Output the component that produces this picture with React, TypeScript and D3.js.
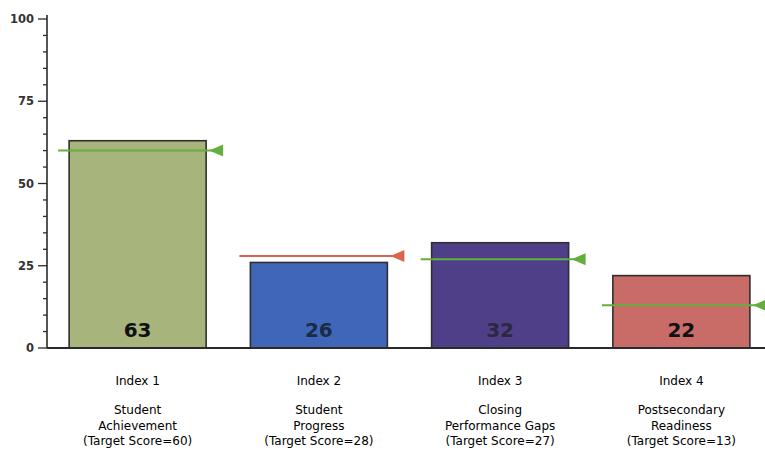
import React from "react";
import * as d3 from "d3";

const categories = ["Index 1", "Index 2", "Index 3", "Index 4"];
const subtitles = [
  ["Student", "Achievement", "(Target Score=60)"],
  ["Student", "Progress", "(Target Score=28)"],
  ["Closing", "Performance Gaps", "(Target Score=27)"],
  ["Postsecondary", "Readiness", "(Target Score=13)"],
];
const scores = [63, 26, 32, 22];
const targets = [60, 28, 27, 13];
const barColors = ["#a7b57c", "#3f66b8", "#4f3f88", "#c96c68"];
const labelColors = ["#111111", "#1b2a45", "#2b2840", "#111111"];
const yTicks = [0, 25, 50, 75, 100];

const W = 765;
const H = 453;
const axisX = 47;
const y0 = 348;
const yTop = 19;

export default function App() {
  const y = d3.scaleLinear().domain([0, 100]).range([y0, yTop]);
  const x = d3
    .scaleBand<string>()
    .domain(categories)
    .range([axisX, 772])
    .paddingInner(0.244)
    .paddingOuter(0.122);
  const minor = d3.range(0, 101, 5);
  const bw = x.bandwidth();
  const font = "'DejaVu Sans', Verdana, sans-serif";

  return (
    <svg
      width={W}
      height={H}
      style={{ position: "absolute", left: 0, top: 0, background: "#fff" }}
    >
      {categories.map((c, i) => {
        const bx = x(c)!;
        return (
          <g key={c}>
            <rect
              x={bx}
              y={y(scores[i])}
              width={bw}
              height={y0 - y(scores[i])}
              fill={barColors[i]}
              stroke="#2f2f2f"
              strokeWidth={1.6}
            />
            <text
              x={bx + bw / 2}
              y={337}
              textAnchor="middle"
              fontFamily={font}
              fontWeight="bold"
              fontSize={20}
              fill={labelColors[i]}
            >
              {scores[i]}
            </text>
          </g>
        );
      })}
      {categories.map((c, i) => {
        const bx = x(c)!;
        const ty = y(targets[i]);
        const col = scores[i] >= targets[i] ? "#64ae3e" : "#d8654c";
        const tip = bx + bw + 3;
        return (
          <g key={"t" + c}>
            <line
              x1={bx - 11}
              x2={tip + 8}
              y1={ty}
              y2={ty}
              stroke={col}
              strokeWidth={2}
            />
            <path
              d={`M${tip},${ty} L${tip + 14},${ty - 6} L${tip + 14},${ty + 6} Z`}
              fill={col}
            />
          </g>
        );
      })}
      <line x1={axisX} x2={axisX} y1={15} y2={y0} stroke="#2a2a2a" strokeWidth={1.6} />
      <line x1={axisX} x2={W} y1={y0} y2={y0} stroke="#2a2a2a" strokeWidth={1.8} />
      {minor.map((v) => (
        <line
          key={v}
          x1={v % 25 === 0 ? 38 : 43}
          x2={axisX}
          y1={y(v)}
          y2={y(v)}
          stroke="#2a2a2a"
          strokeWidth={1.3}
        />
      ))}
      {yTicks.map((v) => (
        <text
          key={v}
          x={34}
          y={y(v) + 4}
          textAnchor="end"
          fontFamily={font}
          fontSize={11.5}
          fontWeight="bold"
          fill="#333"
        >
          {v}
        </text>
      ))}
      {categories.map((c, i) => {
        const cx = x(c)! + bw / 2;
        return (
          <g key={"l" + c} fontFamily={font} fontSize={12} fill="#000" textAnchor="middle">
            <text x={cx} y={385}>{c}</text>
            {subtitles[i].map((s, j) => (
              <text key={j} x={cx} y={414 + j * 15.5}>{s}</text>
            ))}
          </g>
        );
      })}
    </svg>
  );
}
